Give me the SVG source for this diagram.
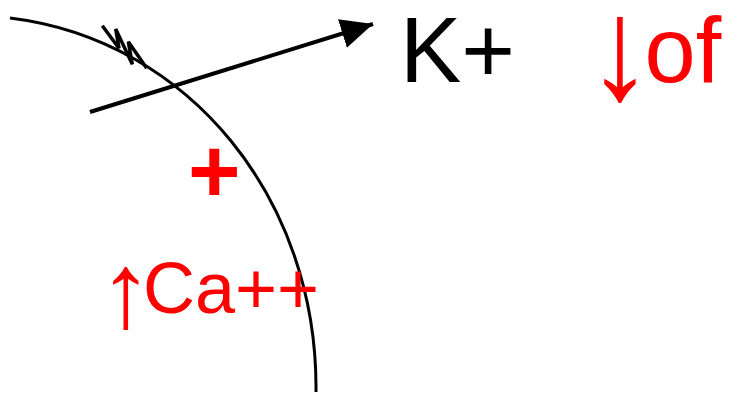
<svg xmlns="http://www.w3.org/2000/svg" width="743" height="397" viewBox="0 0 743 397">
<style>
.ln{fill:none;stroke:#000;stroke-width:3}
.zz{fill:none;stroke:#000;stroke-width:3.5;stroke-linejoin:miter}
.t{font-family:"Liberation Sans",Arial,sans-serif}
.red{fill:#ff0000}
</style>
<defs>
<marker id="ah" markerUnits="userSpaceOnUse" markerWidth="40" markerHeight="40" refX="32" refY="15" orient="auto">
<path d="M0,0 L32,15 L0,30 Z" fill="#000"/>
</marker>
</defs>
<g id="membrane">
<path class="ln" d="M10,18 C190,40 318,200 316,392"/>
</g>
<g id="channel">
<polyline class="zz" points="102.3,25.7 119,48.3 115.7,29 132.3,64.3 128.3,41.7 146.7,68.3"/>
</g>
<g id="connectors">
<line x1="90" y1="112" x2="373" y2="24" stroke="#000" stroke-width="4" marker-end="url(#ah)"/>
</g>
<g id="k"><text class="t" x="400" y="82" font-size="92" fill="#000">K+</text></g>
<g id="of">
<text class="t red" font-size="92" text-anchor="middle" transform="translate(620,98.5) scale(1.45,1.58)">↓</text>
<text class="t red" x="644.5" y="82" font-size="92">of</text>
</g>
<g id="plus"><text class="t red" x="188" y="202" font-size="90" font-weight="bold">+</text></g>
<g id="ca">
<text class="t red" font-size="72" text-anchor="middle" transform="translate(125.8,327) scale(1.5,1.48)">↑</text>
<text class="t red" x="143" y="313" font-size="72">Ca++</text>
</g>
</svg>
